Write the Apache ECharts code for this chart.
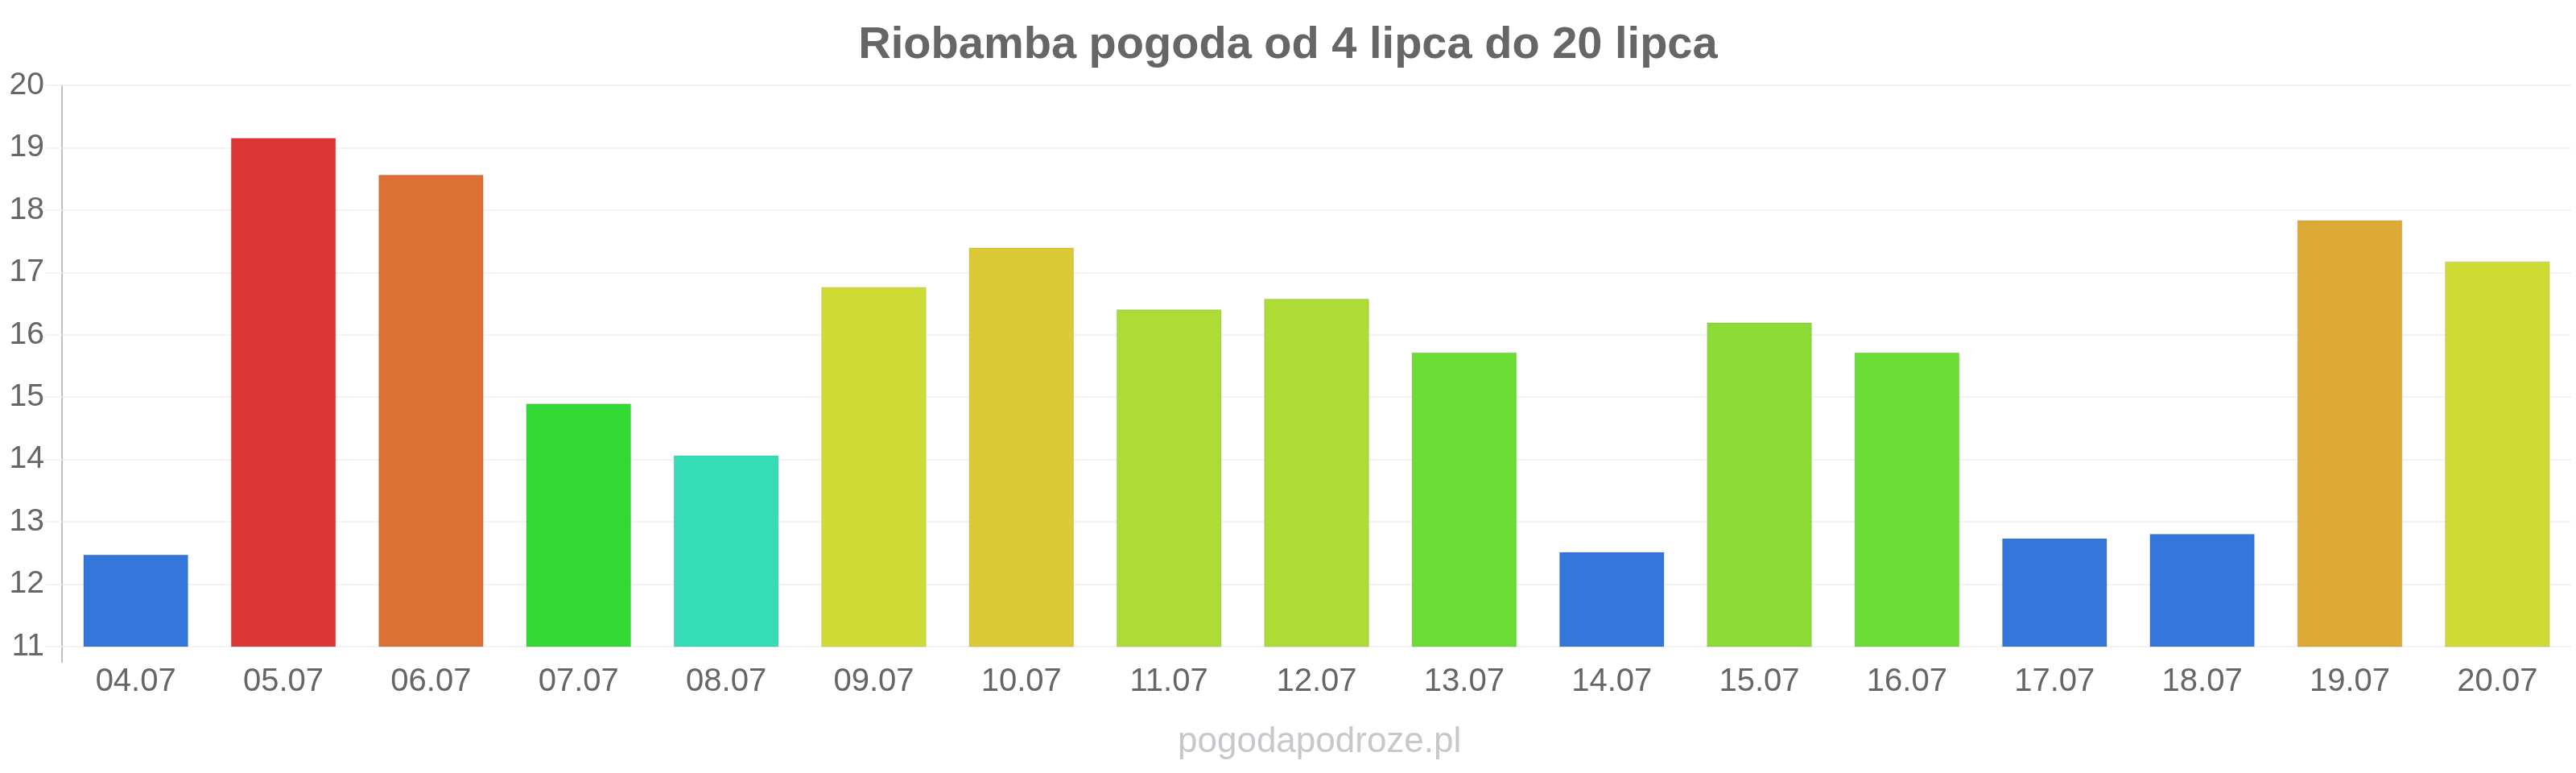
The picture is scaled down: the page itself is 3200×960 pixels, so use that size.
<!DOCTYPE html>
<html>
<head>
<meta charset="utf-8">
<title>Riobamba pogoda</title>
<script src="https://cdn.jsdelivr.net/npm/echarts@6/dist/echarts.min.js"></script>
<style>
  html, body { margin: 0; padding: 0; background: #fff; }
  #chart { width: 3200px; height: 960px; }
</style>
</head>
<body>
<div id="chart"></div>
<script>
// dane
var days = ['04.07', '05.07', '06.07', '07.07', '08.07', '09.07', '10.07', '11.07', '12.07',
            '13.07', '14.07', '15.07', '16.07', '17.07', '18.07', '19.07', '20.07'];
var temps = [12.48, 19.16, 18.57, 14.9, 14.07, 16.77, 17.4, 16.41, 16.58,
             15.72, 12.52, 16.2, 15.72, 12.74, 12.81, 17.84, 17.18];
var barColors = ['#3576db', '#db3535', '#dc7035', '#33da36', '#36dbb8', '#d0dc36', '#dbc935', '#acdc35', '#acdc35',
                 '#6cdc36', '#3576db', '#8cdc35', '#6cdc36', '#3576db', '#3576db', '#dcaa35', '#d0dc36'];
var yTicks = [11, 12, 13, 14, 15, 16, 17, 18, 19, 20];

var chart = echarts.init(document.getElementById('chart'));

var option = {
    animation: false,
    backgroundColor: '#fff',
    textStyle: { fontFamily: 'Liberation Sans, Arial, sans-serif' },
    title: {
        text: 'Riobamba pogoda od 4 lipca do 20 lipca',
        left: 'center',
        top: 24,
        textStyle: { fontSize: 56, fontWeight: 'bold', color: '#666' }
    },
    grid: { left: 77, right: 6, top: 106, bottom: 157, containLabel: false },
    xAxis: {
        type: 'category',
        data: days,
        axisLine: { show: false },
        axisTick: { show: false },
        axisLabel: { fontSize: 40, color: '#666', margin: 24 }
    },
    yAxis: {
        type: 'value',
        min: yTicks[0],
        max: yTicks[yTicks.length - 1],
        interval: 1,
        axisLine: { show: true, lineStyle: { color: '#c0c0c0', width: 2 } },
        axisTick: { show: true, length: 20, lineStyle: { color: '#f3f3f3', width: 2 } },
        splitLine: { show: true, lineStyle: { color: '#f3f3f3', width: 2 } },
        axisLabel: { fontSize: 39, color: '#666', margin: 22 }
    },
    series: [{
        type: 'bar',
        barWidth: 131,
        data: temps.map(function (v, i) {
            return {
                value: v,
                itemStyle: {
                    color: barColors[i],
                    borderColor: 'rgba(0,0,0,0.08)',
                    borderWidth: 1.5
                }
            };
        })
    }],
    graphic: [
        {
            // przedluzenie osi Y pod wykresem
            type: 'line',
            shape: { x1: 77, y1: 803, x2: 77, y2: 823 },
            style: { stroke: '#c0c0c0', lineWidth: 2 }
        },
        {
            type: 'text',
            left: 1635 - 172,
            top: 900,
            style: {
                text: 'pogodapodroze.pl',
                font: '44px Liberation Sans, Arial, sans-serif',
                fill: '#c8c8cc'
            }
        }
    ]
};

chart.setOption(option);
</script>
</body>
</html>
